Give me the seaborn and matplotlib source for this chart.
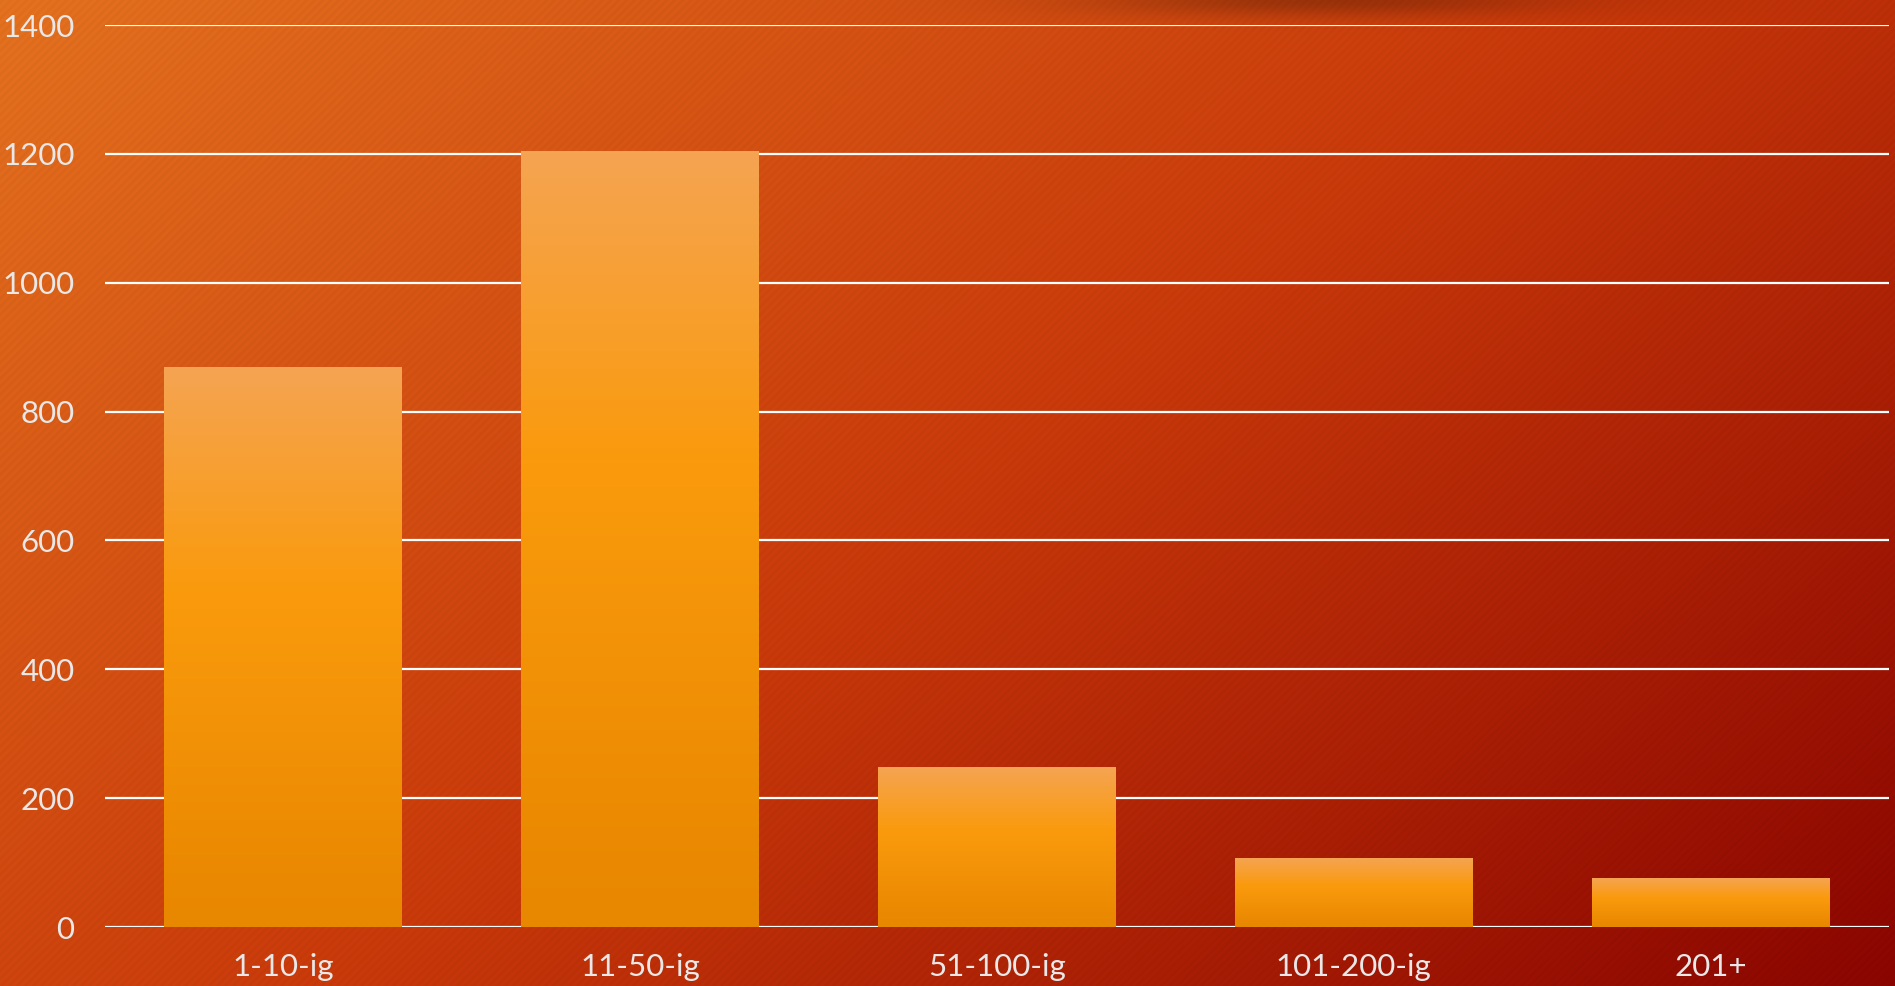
import numpy as np
import pandas as pd
import seaborn as sns
import matplotlib.pyplot as plt
from matplotlib.colors import LinearSegmentedColormap

categories = ['1-10-ig', '11-50-ig', '51-100-ig', '101-200-ig', '201+']
values = [868, 1204, 248, 107, 75]
yticks = [0, 200, 400, 600, 800, 1000, 1200, 1400]

df = pd.DataFrame({'size': categories, 'count': values})

sns.set_style('white')
plt.rcParams['font.family'] = ['Lato', 'DejaVu Sans']

fig = plt.figure(figsize=(18.95, 9.86), dpi=100)

# háttér: átlós színátmenet, finom csíkok, árnyék fent
H, W = 986, 1895
yy, xx = np.mgrid[0:H, 0:W]
t = 0.6 * xx / W + 0.4 * yy / H
bg_cmap = LinearSegmentedColormap.from_list('bg', ['#E6721F', '#CB3A0A', '#8C0500'])
rgb = bg_cmap(t)[..., :3]
stripes = 0.5 + 0.5 * np.sin((xx + yy) * 2 * np.pi / 8)
rgb = rgb * (1 - 0.035 * stripes)[..., None]
shadow = np.exp(-((xx - 1330) / 240) ** 2 - (yy / 16) ** 2)
rgb = rgb * (1 - 0.25 * shadow)[..., None]

bg = fig.add_axes([0, 0, 1, 1], zorder=0)
bg.imshow(rgb, aspect='auto', extent=[0, 1, 0, 1])
bg.axis('off')

ax = fig.add_axes([0.0554, 0.0598, 0.9414, 0.9148], zorder=1)
ax.set_facecolor('none')
sns.barplot(data=df, x='size', y='count', ax=ax, width=0.667,
            color='#F59A10', saturation=1)

# oszlopok színátmenettel
bar_cmap = LinearSegmentedColormap.from_list(
    'bar', [(0, '#E88700'), (0.6, '#FA9A0C'), (1, '#F5A452')])
grad = np.linspace(1, 0, 256).reshape(-1, 1)
for p in list(ax.patches):
    x0, w, h = p.get_x(), p.get_width(), p.get_height()
    ax.imshow(grad, cmap=bar_cmap, aspect='auto', extent=[x0, x0 + w, 0, h],
              zorder=2, vmin=0, vmax=1)
    p.set_visible(False)

ax.set_xlim(-0.5, 4.5)
ax.set_ylim(0, 1400)
ax.set_yticks(yticks)
ax.yaxis.grid(True, color='white', lw=1.6)
ax.set_axisbelow(True)
for s in ax.spines.values():
    s.set_visible(False)
ax.tick_params(axis='y', length=0, pad=22, labelsize=22.5, labelcolor='#E8E8E8')
ax.tick_params(axis='x', length=0, pad=19, labelsize=22.5, labelcolor='#E8E8E8')
ax.set_xlabel('')
ax.set_ylabel('')

fig.savefig('out.png', dpi=100)
